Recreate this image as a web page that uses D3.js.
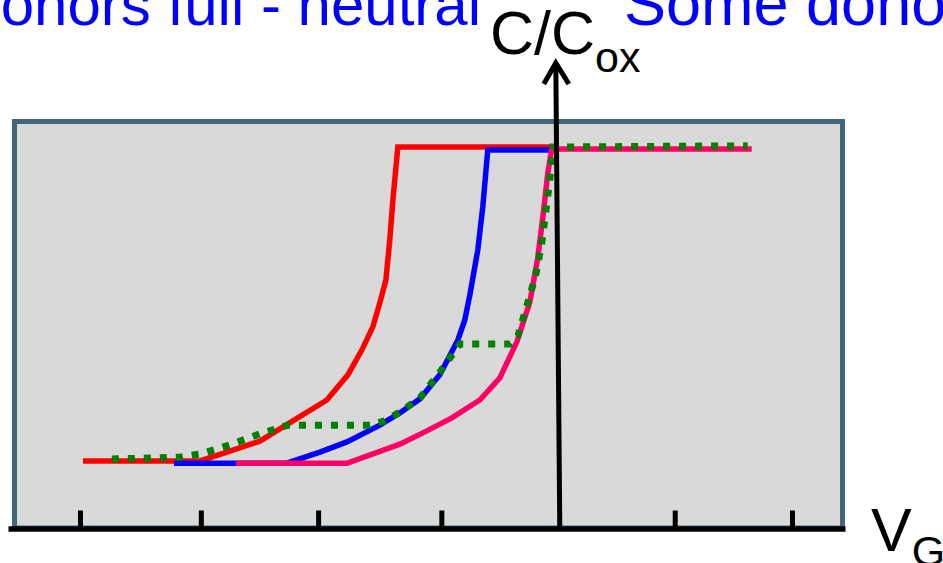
<!DOCTYPE html>
<html>
<head>
<meta charset="utf-8">
<script src="https://cdn.jsdelivr.net/npm/d3@7"></script>
<style>
  html, body { margin: 0; padding: 0; background: #ffffff; overflow: hidden; }
  svg { display: block; }
  text { font-family: "Liberation Sans", Arial, Helvetica, sans-serif; }
</style>
</head>
<body>
<svg id="chart" width="943" height="563"></svg>
<script>
// Gate voltage (arbitrary units) and normalised capacitance C/Cox for each curve
const idealCurve = [
  [-4.025, 0.176], [-3.038, 0.176], [-2.810, 0.199], [-2.532, 0.228],
  [-2.253, 0.281], [-1.966, 0.336], [-1.789, 0.402], [-1.671, 0.467],
  [-1.578, 0.528], [-1.519, 0.591], [-1.468, 0.651], [-1.435, 0.756],
  [-1.409, 0.861], [-1.367, 1.000], [-0.034, 1.000]
];
const partialCurve = [
  [-3.257, 0.170], [-2.304, 0.170], [-2.025, 0.199], [-1.797, 0.226],
  [-1.519, 0.270], [-1.350, 0.302], [-1.181, 0.339], [-1.013, 0.402],
  [-0.861, 0.493], [-0.802, 0.546], [-0.759, 0.612], [-0.692, 0.730],
  [-0.650, 0.843], [-0.608, 0.992], [-0.068, 0.992]
];
const shiftedCurve = [
  [-2.734, 0.170], [-1.797, 0.170], [-1.350, 0.220], [-1.122, 0.255],
  [-0.911, 0.289], [-0.675, 0.336], [-0.506, 0.394], [-0.363, 0.488],
  [-0.253, 0.593], [-0.186, 0.709], [-0.143, 0.816], [-0.101, 0.932],
  [-0.068, 0.995], [1.620, 0.995]
];
const steppedCurve = [
  [-3.781, 0.181], [-3.207, 0.186], [-3.038, 0.194], [-2.785, 0.218],
  [-2.532, 0.247], [-2.295, 0.270], [-1.603, 0.270], [-1.477, 0.281],
  [-1.350, 0.304], [-1.181, 0.341], [-1.013, 0.409], [-0.844, 0.483],
  [-0.422, 0.483], [-0.354, 0.504], [-0.278, 0.583], [-0.203, 0.664],
  [-0.152, 0.748], [-0.118, 0.832], [-0.084, 0.916], [-0.059, 1.000],
  [1.586, 1.003]
];
const tickValues = [-4.05, -3.03, -2.04, -1.0, 0, 0.97, 1.96];

const svg = d3.select("#chart");

const x = d3.scaleLinear().domain([-4.05, 1.96]).range([80, 792]);
const y = d3.scaleLinear().domain([0, 1]).range([528, 147]);

// Plot panel
svg.append("rect")
  .attr("x", 14.5).attr("y", 121.5)
  .attr("width", 842.5 - 14.5).attr("height", 528 - 121.5)
  .attr("fill", "#d9d9d9")
  .attr("stroke", "#44667a")
  .attr("stroke-width", 5);

const line = d3.line().x(d => x(d[0])).y(d => y(d[1]));

const series = [
  { data: idealCurve,   color: "#ff0000", width: 5.5, dash: null },
  { data: partialCurve, color: "#0000ff", width: 5.5, dash: null },
  { data: shiftedCurve, color: "#ff0066", width: 5.5, dash: null },
  { data: steppedCurve, color: "#008000", width: 7,   dash: "7,9" }
];

svg.append("g").selectAll("path")
  .data(series)
  .join("path")
  .attr("d", d => line(d.data))
  .attr("fill", "none")
  .attr("stroke", d => d.color)
  .attr("stroke-width", d => d.width)
  .attr("stroke-linejoin", "miter")
  .attr("stroke-linecap", "butt")
  .attr("stroke-dasharray", d => d.dash);

// V_G axis with upward tick marks
const axisScale = x.copy().domain([x.invert(8), x.invert(845)]).range([8, 845]);
const xAxis = d3.axisTop(axisScale)
  .tickValues(tickValues)
  .tickSizeInner(18)
  .tickSizeOuter(0)
  .tickFormat("");

const gx = svg.append("g")
  .attr("transform", "translate(0,528.5)")
  .call(xAxis);
gx.select(".domain").attr("stroke", "#000").attr("stroke-width", 5.5);
gx.selectAll(".tick line").attr("stroke", "#000").attr("stroke-width", 5);
gx.selectAll(".tick").filter(d => d === 0).remove();

// C/Cox axis with open arrow head
const x0 = x(0);
const topX = x0 - 4, topY = 63;
svg.append("line")
  .attr("x1", x0).attr("y1", 531)
  .attr("x2", topX).attr("y2", topY)
  .attr("stroke", "#000").attr("stroke-width", 5);
svg.append("path")
  .attr("d", `M${topX - 12},${topY + 21} L${topX},${topY} L${topX + 13},${topY + 21}`)
  .attr("fill", "none")
  .attr("stroke", "#000")
  .attr("stroke-width", 5)
  .attr("stroke-linejoin", "miter");

// Axis labels
const cLabel = svg.append("text")
  .attr("x", 490).attr("y", 54)
  .attr("font-size", 61)
  .attr("fill", "#000");
cLabel.append("tspan").text("C/C");
cLabel.append("tspan").attr("dy", 18).attr("font-size", 43).text("ox");

const vLabel = svg.append("text")
  .attr("x", 871).attr("y", 551)
  .attr("font-size", 61)
  .attr("fill", "#000");
vLabel.append("tspan").text("V");
vLabel.append("tspan").attr("dy", 15).attr("font-size", 43).text("G");

// Headings above the panel
svg.append("text")
  .attr("x", 481).attr("y", 25)
  .attr("text-anchor", "end")
  .attr("font-size", 60)
  .attr("fill", "#0000ff")
  .text("Donors full - neutral");

svg.append("text")
  .attr("x", 624).attr("y", 25)
  .attr("font-size", 63)
  .attr("fill", "#0000ff")
  .text("Some donors");
</script>
</body>
</html>
